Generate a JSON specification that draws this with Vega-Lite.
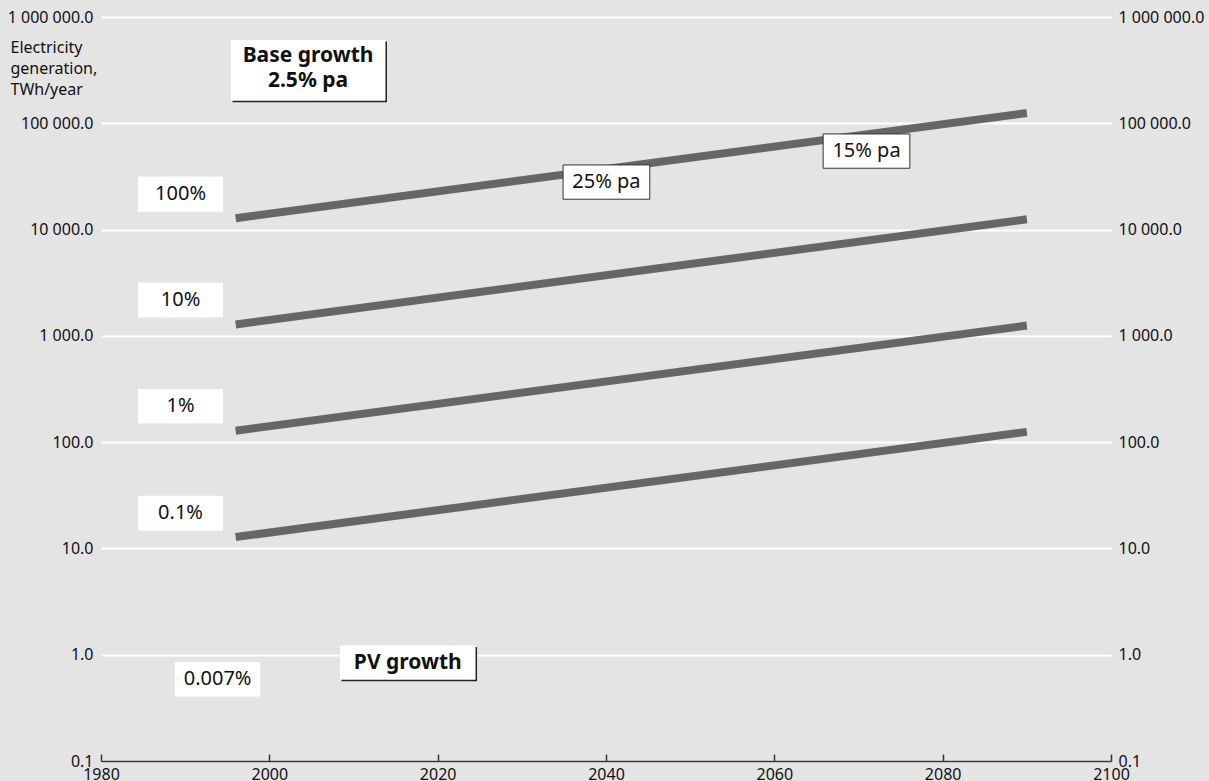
{
  "$schema": "https://vega.github.io/schema/vega-lite/v6.json",
  "width": 1010,
  "height": 744,
  "autosize": {"type": "none"},
  "padding": {"left": 101, "top": 17, "right": 98, "bottom": 20},
  "background": "#e4e4e4",
  "config": {
    "font": "Noto Sans",
    "view": {"stroke": null},
    "locale": {"number": {"decimal": ".", "thousands": " ", "grouping": [3], "currency": ["", ""]}}
  },
  "datasets": {
    "series": [
      {"s": "100%", "year": 1996, "value": 12800},
      {"s": "100%", "year": 2090, "value": 125000},
      {"s": "10%", "year": 1996, "value": 1280},
      {"s": "10%", "year": 2090, "value": 12500},
      {"s": "1%", "year": 1996, "value": 128},
      {"s": "1%", "year": 2090, "value": 1250},
      {"s": "0.1%", "year": 1996, "value": 12.8},
      {"s": "0.1%", "year": 2090, "value": 125}
    ],
    "boxes": [
      {"label": "100%", "x1": 1984.4, "x2": 1994.5, "y1": 14750, "y2": 31500, "tx": 1989.45, "ty": 21560, "kind": "plain"},
      {"label": "10%", "x1": 1984.4, "x2": 1994.5, "y1": 1486, "y2": 3170, "tx": 1989.45, "ty": 2171, "kind": "plain"},
      {"label": "1%", "x1": 1984.4, "x2": 1994.5, "y1": 150, "y2": 317, "tx": 1989.45, "ty": 218, "kind": "plain"},
      {"label": "0.1%", "x1": 1984.4, "x2": 1994.5, "y1": 14.75, "y2": 31.3, "tx": 1989.45, "ty": 21.5, "kind": "plain"},
      {"label": "0.007%", "x1": 1988.8, "x2": 1998.9, "y1": 0.405, "y2": 0.853, "tx": 1993.85, "ty": 0.588, "kind": "plain"},
      {"label": "25% pa", "x1": 2034.9, "x2": 2045.2, "y1": 19300, "y2": 40570, "tx": 2040.05, "ty": 27980, "kind": "border"},
      {"label": "15% pa", "x1": 2065.8, "x2": 2076.1, "y1": 37760, "y2": 79380, "tx": 2070.95, "ty": 54730, "kind": "border"},
      {"label": "Base growth\n2.5% pa", "x1": 1995.45, "x2": 2013.8, "y1": 163300, "y2": 607800, "tx": 2004.6, "ty": 430000, "kind": "shadow"},
      {"label": "PV growth", "x1": 2008.4, "x2": 2024.5, "y1": 0.582, "y2": 1.222, "tx": 2016.45, "ty": 0.843, "kind": "shadow"}
    ]
  },
  "resolve": {"axis": {"y": "independent"}},
  "layer": [
    {
      "data": {"name": "series"},
      "mark": {"type": "line", "color": "#666666", "strokeWidth": 8, "strokeCap": "butt"},
      "encoding": {
        "x": {
          "field": "year", "type": "quantitative", "title": null,
          "scale": {"domain": [1980, 2100], "nice": false, "zero": false},
          "axis": {
            "values": [1980, 2000, 2020, 2040, 2060, 2080, 2100],
            "format": "d", "title": null, "grid": false,
            "domainColor": "#333333", "domainWidth": 1.5,
            "tickColor": "#333333", "tickWidth": 1.5, "tickSize": -7,
            "labelFontSize": 16, "labelColor": "#111111", "labelPadding": 12,
            "labelBaseline": "top", "labelFlush": false
          }
        },
        "y": {
          "field": "value", "type": "quantitative",
          "scale": {"type": "log", "domain": [0.1, 1000000], "nice": false},
          "axis": {
            "orient": "left",
            "values": [0.1, 1, 10, 100, 1000, 10000, 100000, 1000000],
            "format": ",.1f",
            "domain": false, "ticks": false,
            "grid": true, "gridColor": "#ffffff", "gridWidth": 2, "gridOpacity": 1,
            "labelFontSize": 16, "labelColor": "#111111", "labelPadding": 8,
            "title": ["Electricity", "generation,", "TWh/year"],
            "titleAngle": 0, "titleAlign": "left", "titleBaseline": "top",
            "titleX": -91, "titleY": 22, "titleFontSize": 16, "titleFontWeight": "normal",
            "titleColor": "#111111", "titleLineHeight": 21
          }
        },
        "detail": {"field": "s"}
      }
    },
    {
      "data": {"name": "series"},
      "mark": {"type": "point", "opacity": 0},
      "encoding": {
        "x": {"field": "year", "type": "quantitative", "title": null},
        "y": {
          "field": "value", "type": "quantitative",
          "axis": {
            "orient": "right",
            "values": [0.1, 1, 10, 100, 1000, 10000, 100000, 1000000],
            "format": ",.1f",
            "domain": false, "ticks": false, "grid": false,
            "labelFontSize": 16, "labelColor": "#111111", "labelPadding": 7,
            "title": null
          }
        }
      }
    },
    {
      "data": {"name": "boxes"},
      "transform": [{"filter": "datum.kind == 'shadow'"}],
      "mark": {"type": "rect", "fill": "#222222", "xOffset": 1.5, "x2Offset": 1.5, "yOffset": 1.5, "y2Offset": 1.5},
      "encoding": {
        "x": {"field": "x1", "type": "quantitative", "title": null},
        "x2": {"field": "x2"},
        "y": {"field": "y1", "type": "quantitative", "axis": null},
        "y2": {"field": "y2"}
      }
    },
    {
      "data": {"name": "boxes"},
      "mark": {"type": "rect", "fill": "#ffffff"},
      "encoding": {
        "x": {"field": "x1", "type": "quantitative", "title": null},
        "x2": {"field": "x2"},
        "y": {"field": "y1", "type": "quantitative", "axis": null},
        "y2": {"field": "y2"}
      }
    },
    {
      "data": {"name": "boxes"},
      "transform": [{"filter": "datum.kind == 'border'"}],
      "mark": {"type": "rect", "fill": null, "filled": false, "stroke": "#333333", "strokeWidth": 1},
      "encoding": {
        "x": {"field": "x1", "type": "quantitative", "title": null},
        "x2": {"field": "x2"},
        "y": {"field": "y1", "type": "quantitative", "axis": null},
        "y2": {"field": "y2"}
      }
    },
    {
      "data": {"name": "boxes"},
      "transform": [{"filter": "datum.kind != 'shadow'"}],
      "mark": {"type": "text", "fontSize": 20, "color": "#111111", "align": "center", "baseline": "middle"},
      "encoding": {
        "x": {"field": "tx", "type": "quantitative", "title": null},
        "y": {"field": "ty", "type": "quantitative", "axis": null},
        "text": {"field": "label"}
      }
    },
    {
      "data": {"name": "boxes"},
      "transform": [{"filter": "datum.kind == 'shadow'"}],
      "mark": {"type": "text", "fontSize": 21, "fontWeight": "bold", "color": "#111111", "align": "center", "baseline": "middle", "lineBreak": "\n", "lineHeight": 25},
      "encoding": {
        "x": {"field": "tx", "type": "quantitative", "title": null},
        "y": {"field": "ty", "type": "quantitative", "axis": null},
        "text": {"field": "label"}
      }
    }
  ]
}
